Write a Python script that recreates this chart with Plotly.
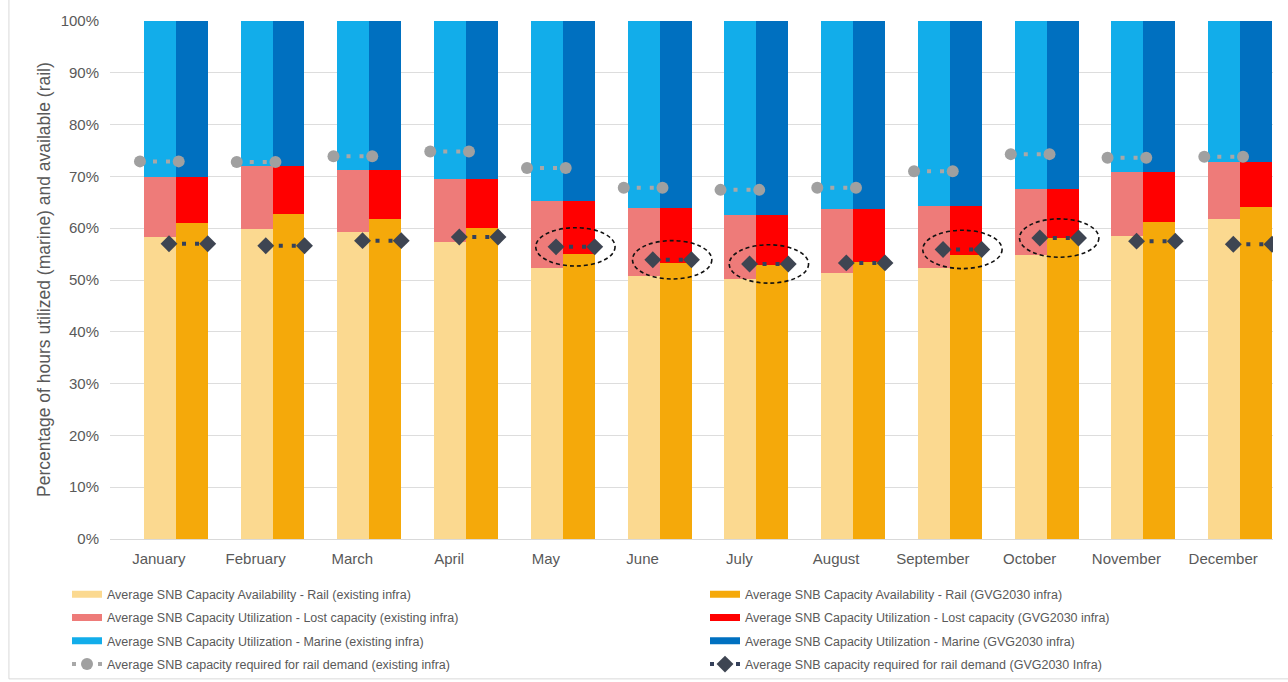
import plotly.graph_objects as go

months = ["January", "February", "March", "April", "May", "June",
          "July", "August", "September", "October", "November", "December"]

# Existing infrastructure (percent of hours)
rail_existing = [58.3, 59.8, 59.2, 57.3, 52.3, 50.8, 50.2, 51.3, 52.3, 54.8, 58.5, 61.8]
lost_existing = [11.6, 12.2, 12.0, 12.2, 13.0, 13.1, 12.3, 12.4, 12.0, 12.8, 12.4, 10.9]
marine_existing = [30.1, 28.0, 28.8, 30.5, 34.7, 36.1, 37.5, 36.3, 35.7, 32.4, 29.1, 27.3]
demand_existing = [72.9, 72.8, 73.9, 74.8, 71.6, 67.8, 67.4, 67.8, 71.0, 74.3, 73.6, 73.8]

# GVG2030 infrastructure (percent of hours)
rail_gvg = [61.0, 62.7, 61.8, 60.1, 55.0, 53.3, 52.9, 53.5, 54.8, 58.1, 61.2, 64.1]
lost_gvg = [8.9, 9.3, 9.4, 9.4, 10.3, 10.6, 9.6, 10.2, 9.5, 9.5, 9.7, 8.6]
marine_gvg = [30.1, 28.0, 28.8, 30.5, 34.7, 36.1, 37.5, 36.3, 35.7, 32.4, 29.1, 27.3]
demand_gvg = [57.0, 56.6, 57.6, 58.3, 56.4, 53.9, 53.1, 53.3, 55.9, 58.1, 57.5, 56.9]

highlighted = ["May", "June", "July", "September", "October"]

y_title = "Percentage of hours utilized (marine) and available (rail)"
names = {
    "rail_e": "Average SNB Capacity Availability - Rail (existing infra)",
    "rail_g": "Average SNB Capacity Availability - Rail (GVG2030 infra)",
    "lost_e": "Average SNB Capacity Utilization - Lost capacity (existing infra)",
    "lost_g": "Average SNB Capacity Utilization - Lost capacity (GVG2030 infra)",
    "mar_e": "Average SNB Capacity Utilization - Marine (existing infra)",
    "mar_g": "Average SNB Capacity Utilization - Marine (GVG2030 infra)",
    "dem_e": "Average SNB capacity required for rail demand (existing infra)",
    "dem_g": "Average SNB capacity required for rail demand (GVG2030 Infra)",
}
colors = {
    "rail_e": "#FBD990", "rail_g": "#F5A90A",
    "lost_e": "#EE7B79", "lost_g": "#FF0000",
    "mar_e": "#12ADEA", "mar_g": "#0070C0",
}

BW = 0.33
idx = list(range(len(months)))
x_e = [i - BW / 2 for i in idx]
x_g = [i + BW / 2 for i in idx]
tick_pos = [i - 0.175 for i in idx]

fig = go.Figure()

def add_bar(x, y, key):
    fig.add_trace(go.Bar(x=x, y=y, width=BW, marker=dict(color=colors[key], line=dict(width=0)),
                         name=names[key], showlegend=False))

add_bar(x_e, rail_existing, "rail_e")
add_bar(x_e, lost_existing, "lost_e")
add_bar(x_e, marine_existing, "mar_e")
add_bar(x_g, rail_gvg, "rail_g")
add_bar(x_g, lost_gvg, "lost_g")
add_bar(x_g, marine_gvg, "mar_g")

# demand segments
def segs(vals, a, b):
    xs, ys = [], []
    for i, v in enumerate(vals):
        xs += [i + a, i + b, None]
        ys += [v, v, None]
    return xs, ys

xd_e, yd_e = segs(demand_existing, -0.37, 0.03)
xd_g, yd_g = segs(demand_gvg, -0.07, 0.33)

# legend proxies (left column = existing infra, right column = GVG2030)
for k in ["rail_e", "lost_e", "mar_e"]:
    fig.add_trace(go.Scatter(x=[None], y=[None], mode="lines", name=names[k],
                             line=dict(color=colors[k], width=7), legend="legend",
                             legendgroup=k))
fig.add_trace(go.Scatter(x=xd_e, y=yd_e, mode="lines+markers", name=names["dem_e"],
                         line=dict(color="#A8A8A8", width=4, dash="4px,9px"),
                         marker=dict(symbol="circle", size=12, color="#A0A0A0"),
                         connectgaps=False, legend="legend", legendgroup="dem_e"))
for k in ["rail_g", "lost_g", "mar_g"]:
    fig.add_trace(go.Scatter(x=[None], y=[None], mode="lines", name=names[k],
                             line=dict(color=colors[k], width=7), legend="legend2",
                             legendgroup=k))
fig.add_trace(go.Scatter(x=xd_g, y=yd_g, mode="lines+markers", name=names["dem_g"],
                         line=dict(color="#34405A", width=4, dash="4px,9px"),
                         marker=dict(symbol="diamond", size=13, color="#3E4552"),
                         connectgaps=False, legend="legend2", legendgroup="dem_g"))

# dashed ellipses around highlighted GVG demand points
for i, m in enumerate(months):
    if m in highlighted:
        cx = i + 0.13
        cy = demand_gvg[i]
        fig.add_shape(type="circle", xref="x", yref="y",
                      x0=cx - 0.41, x1=cx + 0.41, y0=cy - 3.7, y1=cy + 3.7,
                      line=dict(color="#111111", width=1.6, dash="4px,3px"))

# light chart frame
fig.add_shape(type="rect", xref="paper", yref="paper",
              x0=-0.0869, x1=1.02, y0=-0.27, y1=1.05,
              line=dict(color="#D9D9D9", width=1), layer="below")

txt = "#595959"
fig.add_annotation(text=y_title, xref="paper", yref="paper", x=(44 - 110) / 1163, y=0.5,
                   xanchor="center", yanchor="middle", textangle=-90, showarrow=False,
                   font=dict(size=17.5, color=txt))

leg_font = dict(family="Liberation Sans, Arial, sans-serif", size=12.5, color=txt)
leg_common = dict(orientation="v", xref="container", yref="container",
                  xanchor="left", yanchor="top", y=0.150,
                  font=leg_font, bgcolor="rgba(0,0,0,0)", traceorder="grouped",
                  itemwidth=30, tracegroupgap=4)

fig.update_layout(
    width=1288, height=682,
    margin=dict(l=110, r=15, t=21, b=143, autoexpand=False),
    paper_bgcolor="white", plot_bgcolor="white",
    barmode="stack",
    font=dict(family="Liberation Sans, Arial, sans-serif", color=txt, size=14),
    xaxis=dict(range=[-0.68, 11.34], tickmode="array", tickvals=tick_pos, ticktext=months,
               showgrid=False, zeroline=False, showline=True, linecolor="#D9D9D9",
               ticks="", tickfont=dict(size=15, color=txt), ticklabelstandoff=6),
    yaxis=dict(range=[0, 100], dtick=10, ticksuffix="%", showgrid=True,
               gridcolor="#DDDDDD", zeroline=False, ticks="",
               tickfont=dict(size=15, color=txt), ticklabelstandoff=10),
    legend=dict(x=67 / 1288, **leg_common),
    legend2=dict(x=705 / 1288, **leg_common),
    showlegend=True,
)

fig.write_html("out.html")
